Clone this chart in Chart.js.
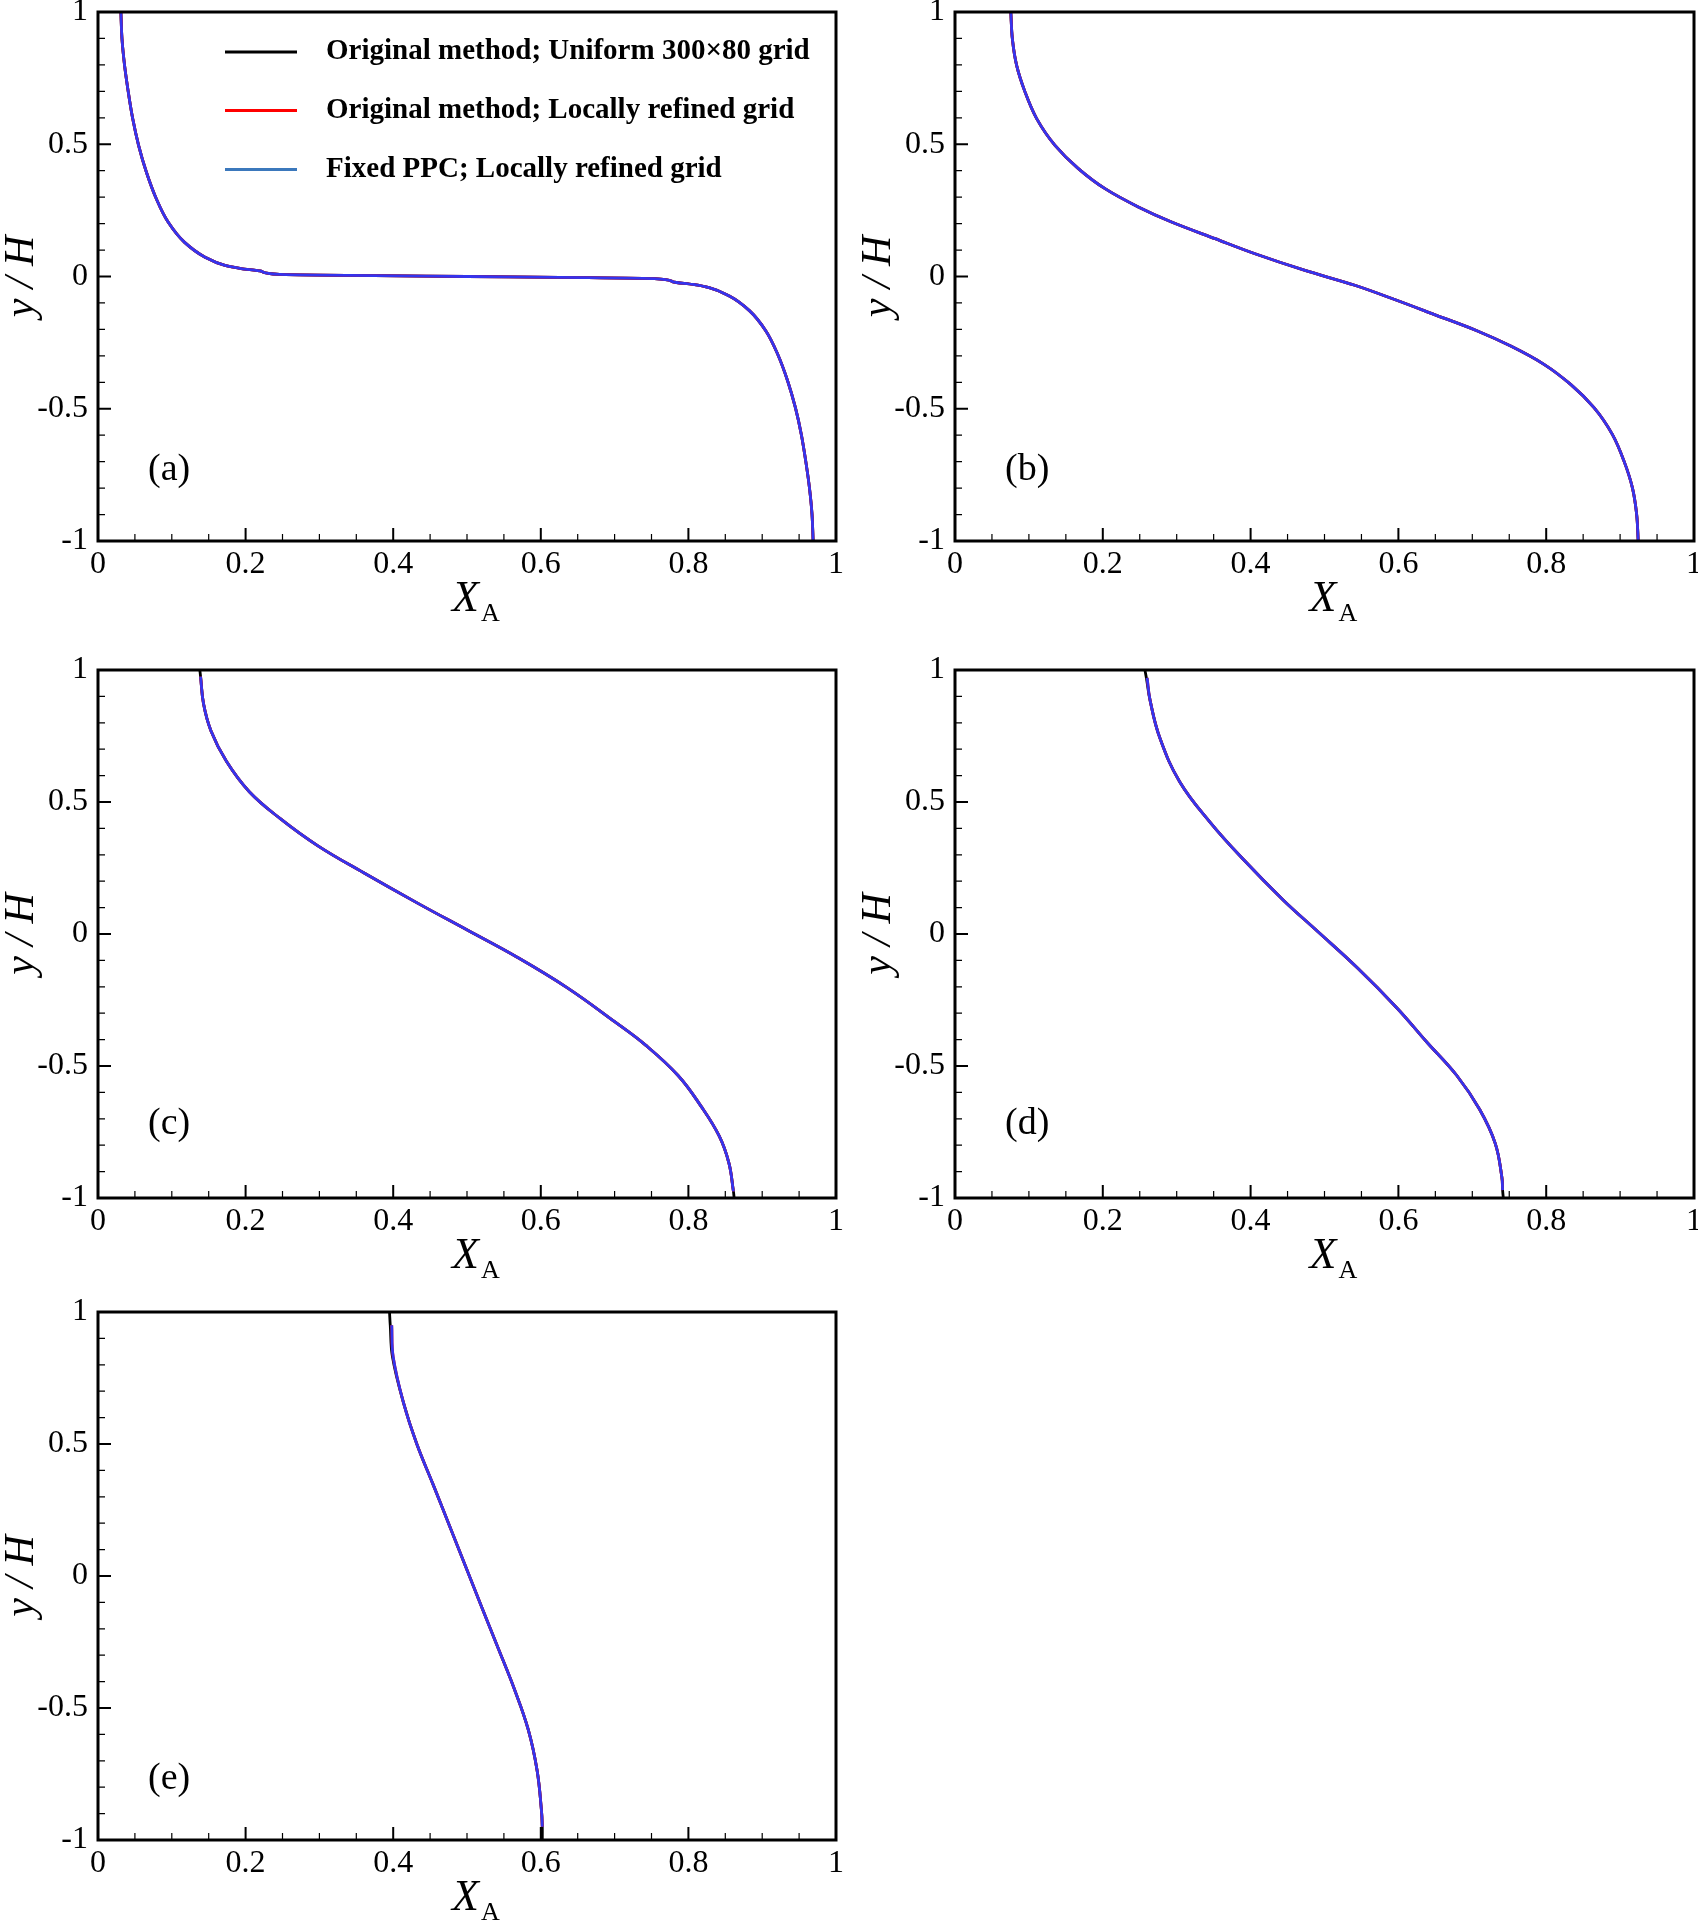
<!DOCTYPE html>
<html><head><meta charset="utf-8">
<script src="https://cdn.jsdelivr.net/npm/chart.js@4.4.1/dist/chart.umd.min.js"></script>
<style>
html,body{margin:0;padding:0;background:#fff;overflow:hidden;}
#fig{position:relative;width:1698px;height:1923px;background:#fff;}
#fig canvas{position:absolute;}
</style></head><body><div id="fig"></div>
<script>
// ---------------- data ----------------
const xTickValues = [0, 0.2, 0.4, 0.6, 0.8, 1];
const xTickLabels = ['0', '0.2', '0.4', '0.6', '0.8', '1'];
const yTickValues = [-1, -0.5, 0, 0.5, 1];
const yTickLabels = ['-1', '-0.5', '0', '0.5', '1'];
const xMinorTicks = [0.05, 0.1, 0.15, 0.25, 0.3, 0.35, 0.45, 0.5, 0.55, 0.65, 0.7, 0.75, 0.85, 0.9, 0.95];
const yMinorTicks = [-0.9, -0.8, -0.7, -0.6, -0.4, -0.3, -0.2, -0.1, 0.1, 0.2, 0.3, 0.4, 0.6, 0.7, 0.8, 0.9];
const seriesLabels = ['Original method; Uniform 300\u00d780 grid', 'Original method; Locally refined grid', 'Fixed PPC; Locally refined grid'];
const panelLabels = ['(a)', '(b)', '(c)', '(d)', '(e)'];

// panel (a)
const yA = [1.0, 0.899, 0.798, 0.698, 0.597, 0.496, 0.395, 0.294, 0.206, 0.130, 0.074, 0.042, 0.030, 0.020, 0.008, 0.004, 0, -0.004, -0.008, -0.020, -0.030, -0.042, -0.074, -0.130, -0.206, -0.294, -0.395, -0.496, -0.597, -0.698, -0.798, -0.899, -1.0];
const xUniformA = [0.031, 0.0325, 0.036, 0.041, 0.047, 0.055, 0.0655, 0.079, 0.095, 0.117, 0.1445, 0.172, 0.194, 0.221, 0.246, 0.34, 0.50, 0.66, 0.754, 0.779, 0.806, 0.828, 0.8555, 0.883, 0.905, 0.921, 0.9345, 0.945, 0.953, 0.959, 0.964, 0.9675, 0.969];
const xRefinedA = [0.031, 0.0325, 0.036, 0.041, 0.047, 0.055, 0.0655, 0.079, 0.095, 0.117, 0.1445, 0.172, 0.194, 0.221, 0.246, 0.34, 0.50, 0.66, 0.754, 0.779, 0.806, 0.828, 0.8555, 0.883, 0.905, 0.921, 0.9345, 0.945, 0.953, 0.959, 0.964, 0.9675, 0.969];

// panel (b)
const yB = [1.0, 0.899, 0.798, 0.698, 0.597, 0.496, 0.408, 0.332, 0.263, 0.206, 0.143, 0.086, 0.023, -0.033, -0.086, -0.143, -0.206, -0.263, -0.332, -0.408, -0.496, -0.597, -0.698, -0.798, -0.899, -1.0];
const xUniformB = [0.0755, 0.0776, 0.0834, 0.0947, 0.1105, 0.1353, 0.1669, 0.203, 0.248, 0.293, 0.352, 0.406, 0.4736, 0.541, 0.594, 0.648, 0.707, 0.752, 0.797, 0.8331, 0.8647, 0.8895, 0.9053, 0.9166, 0.9224, 0.9245];
const xRefinedB = [0.0755, 0.0776, 0.0834, 0.0947, 0.1105, 0.1353, 0.1669, 0.203, 0.248, 0.293, 0.352, 0.406, 0.4736, 0.541, 0.594, 0.648, 0.707, 0.752, 0.797, 0.8331, 0.8647, 0.8895, 0.9053, 0.9166, 0.9224, 0.9245];

// panel (c)
const yC = [1.0, 0.975, 0.872, 0.770, 0.654, 0.539, 0.437, 0.334, 0.232, 0.117, 0.014, -0.088, -0.204, -0.332, -0.421, -0.536, -0.652, -0.767, -0.869, -0.975, -1.0];
const xUniformC = [0.138, 0.139, 0.143, 0.153, 0.174, 0.205, 0.247, 0.298, 0.360, 0.433, 0.501, 0.568, 0.636, 0.700, 0.742, 0.786, 0.817, 0.842, 0.855, 0.861, 0.862];
const xRefinedC = [null, 0.139, 0.143, 0.153, 0.174, 0.205, 0.247, 0.298, 0.360, 0.433, 0.501, 0.568, 0.636, 0.700, 0.742, 0.786, 0.817, 0.842, 0.855, 0.861, null];

// panel (d)
const yD = [1.0, 0.97, 0.885, 0.744, 0.577, 0.424, 0.283, 0.129, 0.014, -0.127, -0.280, -0.408, -0.536, -0.665, -0.793, -0.921, -0.97, -1.0];
const xUniformD = [0.257, 0.259, 0.264, 0.277, 0.304, 0.345, 0.390, 0.444, 0.489, 0.544, 0.598, 0.638, 0.679, 0.710, 0.731, 0.740, 0.741, 0.742];
const xRefinedD = [null, 0.260, 0.264, 0.277, 0.304, 0.345, 0.390, 0.444, 0.489, 0.544, 0.598, 0.638, 0.679, 0.710, 0.731, 0.740, 0.741, null];

// panel (e)
const yE = [1.0, 0.95, 0.83, 0.656, 0.50, 0.347, 0.192, 0.037, -0.118, -0.272, -0.427, -0.582, -0.737, -0.892, -0.95, -1.0];
const xUniformE = [0.395, 0.396, 0.399, 0.414, 0.432, 0.454, 0.476, 0.498, 0.520, 0.542, 0.564, 0.583, 0.595, 0.601, 0.602, 0.602];
const xRefinedE = [null, 0.398, 0.400, 0.414, 0.432, 0.454, 0.476, 0.498, 0.520, 0.542, 0.564, 0.583, 0.595, 0.601, 0.602, null];

// ---------------- styles / layout ----------------
const lineColors = ['#000000', '#ff0000', '#3434ee'];
const legendColors = ['#000000', '#ff0000', '#3b78bc'];
const SERIF = '"Liberation Serif", "Times New Roman", serif';

const panels = [
  { y: yA, xu: xUniformA, xr: xRefinedA, L: 98,  R: 836,  T: 12,   B: 541,  labelY: -0.73, legend: true, mono: true },
  { y: yB, xu: xUniformB, xr: xRefinedB, L: 955, R: 1694, T: 12,   B: 541,  labelY: -0.73, mono: true },
  { y: yC, xu: xUniformC, xr: xRefinedC, L: 98,  R: 836,  T: 670,  B: 1198, labelY: -0.72 },
  { y: yD, xu: xUniformD, xr: xRefinedD, L: 955, R: 1694, T: 670,  B: 1198, labelY: -0.72 },
  { y: yE, xu: xUniformE, xr: xRefinedE, L: 98,  R: 836,  T: 1312, B: 1840, labelY: -0.77 }
];

function toPoints(ys, xs) {
  const out = [];
  ys.forEach((yy, i) => { if (xs[i] !== null) out.push({ x: xs[i], y: yy }); });
  return out;
}

const decoPlugin = {
  id: 'deco',
  afterDatasetsDraw(chart, args, opts) {
    const ctx = chart.ctx;
    const a = chart.chartArea;
    const xs = chart.scales.x, ys = chart.scales.y;
    ctx.save();
    ctx.strokeStyle = '#000';
    // minor ticks (inward)
    ctx.lineWidth = 1.2;
    ctx.beginPath();
    xMinorTicks.forEach(v => { const px = xs.getPixelForValue(v); ctx.moveTo(px, a.bottom); ctx.lineTo(px, a.bottom - 7); });
    yMinorTicks.forEach(v => { const py = ys.getPixelForValue(v); ctx.moveTo(a.left, py); ctx.lineTo(a.left + 7, py); });
    ctx.stroke();
    // major ticks (inward)
    ctx.lineWidth = 2;
    ctx.beginPath();
    xTickValues.forEach(v => { const px = xs.getPixelForValue(v); ctx.moveTo(px, a.bottom); ctx.lineTo(px, a.bottom - 13); });
    yTickValues.forEach(v => { const py = ys.getPixelForValue(v); ctx.moveTo(a.left, py); ctx.lineTo(a.left + 13, py); });
    ctx.stroke();
    // frame
    ctx.lineWidth = 3;
    ctx.strokeRect(a.left, a.top, a.right - a.left, a.bottom - a.top);

    ctx.fillStyle = '#000';
    // x axis title X_A
    const cx = (a.left + a.right) / 2;
    ctx.textAlign = 'left';
    ctx.textBaseline = 'alphabetic';
    ctx.font = 'italic 44px ' + SERIF;
    const wX = ctx.measureText('X').width;
    ctx.fillText('X', cx - 15, a.bottom + 70);
    ctx.font = '26px ' + SERIF;
    ctx.fillText('A', cx - 15 + wX + 2, a.bottom + 80);
    // y axis title
    ctx.save();
    ctx.translate(a.left - 76, (a.top + a.bottom) / 2);
    ctx.rotate(-Math.PI / 2);
    ctx.textAlign = 'center';
    ctx.textBaseline = 'middle';
    ctx.font = 'italic 42px ' + SERIF;
    ctx.fillText('y / H', 0, 0);
    ctx.restore();
    // panel label
    ctx.textAlign = 'left';
    ctx.textBaseline = 'middle';
    ctx.font = '38px ' + SERIF;
    ctx.fillText(opts.label, a.left + 50, ys.getPixelForValue(opts.labelY));
    // legend
    if (opts.legend) {
      const rows = [40, 98.5, 157.5];
      chart.data.datasets.forEach((ds, i) => {
        const ry = a.top + rows[i];
        ctx.strokeStyle = legendColors[i];
        ctx.lineWidth = 3;
        ctx.beginPath();
        ctx.moveTo(a.left + 127, ry);
        ctx.lineTo(a.left + 199, ry);
        ctx.stroke();
        ctx.fillStyle = '#000';
        ctx.font = 'bold 29px ' + SERIF;
        ctx.textBaseline = 'middle';
        ctx.fillText(ds.label, a.left + 228, ry);
      });
    }
    ctx.restore();
  }
};

const fig = document.getElementById('fig');
panels.forEach((p, idx) => {
  const cv = document.createElement('canvas');
  const w = (p.R - p.L) + 140, h = (p.B - p.T) + 140;
  cv.width = w; cv.height = h;
  cv.style.left = (p.L - 100) + 'px';
  cv.style.top = (p.T - 40) + 'px';
  cv.style.width = w + 'px';
  cv.style.height = h + 'px';
  fig.appendChild(cv);

  const mk = (i, xs, ord) => ({
    label: seriesLabels[i],
    data: toPoints(p.y, xs),
    borderColor: lineColors[i],
    backgroundColor: lineColors[i],
    borderWidth: 2.8,
    pointRadius: 0,
    fill: false,
    cubicInterpolationMode: p.mono ? 'monotone' : 'default',
    tension: p.mono ? 0 : 0.4,
    order: ord
  });

  new Chart(cv, {
    type: 'line',
    data: { datasets: [mk(0, p.xu, 2), mk(1, p.xr, 1), mk(2, p.xr, 0)] },
    options: {
      indexAxis: 'y',
      responsive: false,
      animation: false,
      events: [],
      layout: { padding: { top: 40, right: 40, left: 0, bottom: 0 } },
      plugins: {
        legend: { display: false },
        tooltip: { enabled: false },
        deco: { label: panelLabels[idx], labelY: p.labelY, legend: !!p.legend }
      },
      scales: {
        x: {
          type: 'linear', position: 'bottom', min: 0, max: 1,
          afterBuildTicks: s => { s.ticks = xTickValues.map(v => ({ value: v })); },
          afterFit: s => { s.height = 100; },
          grid: { display: false, drawTicks: false },
          border: { display: false },
          ticks: { autoSkip: false, maxRotation: 0, minRotation: 0, padding: 4, color: '#000',
                   font: { family: SERIF, size: 32 }, callback: (v, i) => xTickLabels[i] }
        },
        y: {
          type: 'linear', position: 'left', min: -1, max: 1,
          afterBuildTicks: s => { s.ticks = yTickValues.map(v => ({ value: v })); },
          afterFit: s => { s.width = 100; },
          grid: { display: false, drawTicks: false },
          border: { display: false },
          ticks: { autoSkip: false, padding: 10, color: '#000',
                   font: { family: SERIF, size: 32 }, callback: (v, i) => yTickLabels[i] }
        }
      }
    },
    plugins: [decoPlugin]
  });
});
</script>
</body></html>
